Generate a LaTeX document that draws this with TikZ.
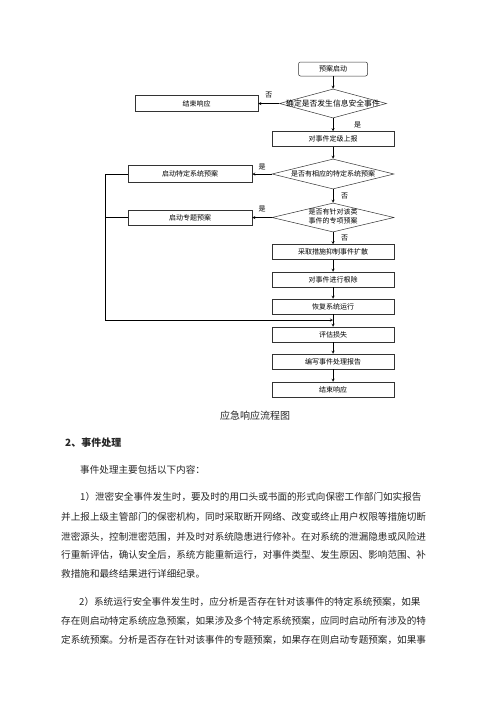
\documentclass[tikz,border=0pt]{standalone}
\usepackage{fontspec}
\setmainfont{Noto Sans CJK SC}
\usetikzlibrary{shapes.geometric}
% stretchable space between CJK characters, for justified lines
\XeTeXinterchartokenstate=1
\XeTeXinterchartoks 1 1={\hskip0pt plus 1pt minus .5pt}
\XeTeXinterchartoks 1 3={\hskip0pt plus 1pt minus .5pt}
\XeTeXinterchartoks 3 1={\hskip0pt plus 1pt minus .5pt}
\XeTeXinterchartoks 1 2={\hskip0pt plus 1pt minus .5pt}
\XeTeXinterchartoks 3 2={\hskip0pt plus 1pt minus .5pt}
\XeTeXinterchartoks 2 1={\hskip0pt plus 1pt minus .5pt}

\begin{document}
\begin{tikzpicture}[x=1pt,y=-1pt,>=stealth,
    box/.style={draw=black!80, line width=.5pt, minimum width=122pt, minimum height=15pt, inner sep=0pt, font=\fontsize{7}{9}\selectfont},
    dia/.style={diamond, aspect=1, draw=black!80, line width=.5pt, inner sep=0pt, minimum width=122pt, minimum height=30pt, font=\fontsize{7}{9}\selectfont},
    lbl/.style={font=\fontsize{7}{9}\selectfont, inner sep=1pt},
    txt/.style={anchor=west, inner sep=0pt, text=black!85, font=\fontsize{9.6}{12}\selectfont}]
\fill[white](0,0)rectangle(500,707);
\useasboundingbox(0,0)rectangle(500,707);

\node[box, rounded corners=2pt, minimum width=69pt, minimum height=14pt](s) at (333,69){预案启动};
\node[dia, minimum width=107pt, minimum height=29pt, font=\fontsize{7.8}{9}\selectfont](d1) at (333,103.5){\makebox[0pt]{确定是否发生信息安全事件}};
\node[box, minimum width=123pt, minimum height=16pt](q) at (196.5,103.5){结束响应};
\node[box](r) at (333,139){对事件定级上报};
\node[dia](d2) at (333,174){\makebox[0pt]{是否有相应的特定系统预案}};
\node[box, minimum width=124pt, minimum height=17pt](p1) at (190,174){启动特定系统预案};
\node[dia, minimum height=29pt](d3) at (333,217.5){\makebox[0pt]{\begin{tabular}{@{}c@{}}是否有针对该类\\事件的专项预案\end{tabular}}};
\node[box, minimum width=124pt](p2) at (190,217.5){启动专题预案};

\node[box](a1) at (333,252){采取措施抑制事件扩散};
\node[box](a2) at (333,279.5){对事件进行根除};
\node[box](a3) at (333,306.5){恢复系统运行};
\node[box](a4) at (333,334.5){评估损失};
\node[box](a5) at (333,361.5){编写事件处理报告};
\node[box](a6) at (333,389.5){结束响应};
\coordinate(j) at (333,320);

\draw[->](s)--(d1);
\draw[->](d1)--node[lbl, above=4pt]{否}(q);
\draw[->](d1)--node[lbl, right=20pt]{是}(r);
\draw[->](r)--(d2);
\draw[->](d2)--node[lbl, above=3pt]{是}(p1);
\draw[->](d2)--node[lbl, right=7pt]{否}(d3);
\draw[->](d3)--node[lbl, above=4pt]{是}(p2);
\draw[->](d3)--node[lbl, right=7pt]{否}(a1);
\draw[->](a1)--(a2);
\draw[->](a2)--(a3);
\draw[->](a3)--(a4);
\draw[->](a4)--(a5);
\draw[->](a5)--(a6);
\draw[->](p1.west)--++(-23,0)|-(j);
\draw(p2.west)--++(-23,0);

\node[txt, anchor=center, font=\fontsize{10}{12}\selectfont](cap) at (255,416){应急响应流程图};
\node[txt, font=\bfseries\fontsize{10}{12}\selectfont](h) at (65,443){2、事件处理};
\node[txt](t0) at (80,470){事件处理主要包括以下内容：};

\node[txt](t1) at (80,497){\makebox[358pt][s]{1）泄密安全事件发生时，要及时的用口头或书面的形式向保密工作部门如实报告}};
\node[txt](t2) at (61,517){\makebox[380pt][s]{并上报上级主管部门的保密机构，同时采取断开网络、改变或终止用户权限等措施切断}};
\node[txt](t3) at (61,537){\makebox[380pt][s]{泄密源头，控制泄密范围，并及时对系统隐患进行修补。在对系统的泄漏隐患或风险进}};
\node[txt](t4) at (61,555){\makebox[378pt][s]{行重新评估，确认安全后，系统方能重新运行，对事件类型、发生原因、影响范围、补}};
\node[txt](t5) at (61,574){救措施和最终结果进行详细纪录。};

\node[txt](t6) at (79,602){\makebox[359pt][s]{2）系统运行安全事件发生时，应分析是否存在针对该事件的特定系统预案，如果}};
\node[txt](t7) at (61,621){\makebox[380pt][s]{存在则启动特定系统应急预案，如果涉及多个特定系统预案，应同时启动所有涉及的特}};
\node[txt](t8) at (61,640){\makebox[380pt][s]{定系统预案。分析是否存在针对该事件的专题预案，如果存在则启动专题预案，如果事}};

\end{tikzpicture}
\end{document}
